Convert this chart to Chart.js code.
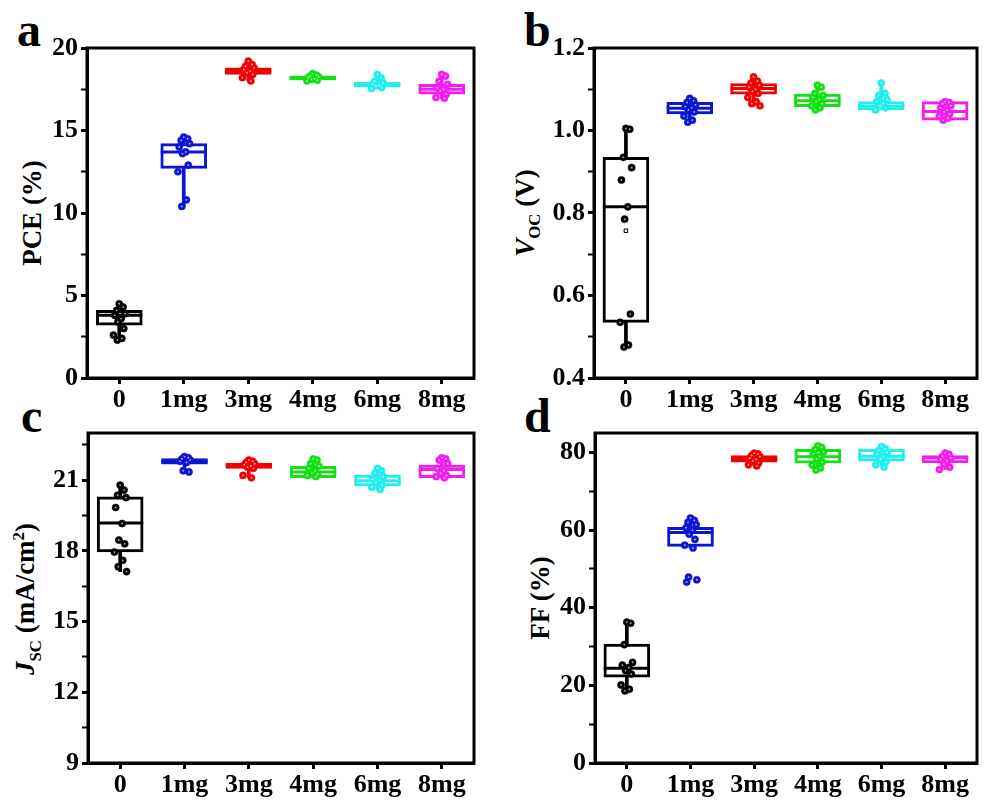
<!DOCTYPE html>
<html>
<head>
<meta charset="utf-8">
<script src="https://cdn.jsdelivr.net/npm/chart.js@4.4.1/dist/chart.umd.min.js"></script>
<style>
  body { margin: 0; background: #fff; width: 1003px; height: 803px; position: relative; overflow: hidden; font-family: "Liberation Serif", "Times New Roman", Tinos, serif; }
  .panel { position: absolute; }
  .letter { position: absolute; font-weight: bold; font-size: 48px; line-height: 1; }
  .ytitle { position: absolute; font-weight: bold; font-size: 27px; white-space: nowrap; line-height: 1; transform: translate(-50%, -50%) rotate(-90deg); }
  .ytitle sub, .ytitle sup { font-size: 0.62em; }
</style>
</head>
<body>
<div class="letter" style="left:17px; top:6px">a</div>
<div class="letter" style="left:524px; top:6px">b</div>
<div class="letter" style="left:21px; top:392px">c</div>
<div class="letter" style="left:524px; top:392px">d</div>

<div class="ytitle" style="left:32px; top:213px">PCE (%)</div>
<div class="ytitle" style="left:528px; top:213px"><i>V</i><sub>OC</sub> (V)</div>
<div class="ytitle" style="left:28px; top:599px"><i>J</i><sub>SC</sub> (mA/cm<sup>2</sup>)</div>
<div class="ytitle" style="left:540px; top:598px">FF (%)</div>

<div class="panel" style="left:0; top:0"><canvas id="pce" width="500" height="420"></canvas></div>
<div class="panel" style="left:500px; top:0"><canvas id="voc" width="503" height="420"></canvas></div>
<div class="panel" style="left:0; top:400px"><canvas id="jsc" width="500" height="403"></canvas></div>
<div class="panel" style="left:500px; top:400px"><canvas id="ff" width="503" height="403"></canvas></div>

<script>
// categories and colours
const groups = ["0", "1mg", "3mg", "4mg", "6mg", "8mg"]
const colors = ["#000000", "#0b16d2", "#f00000", "#14e014", "#22eef0", "#f01ef0"]

// PCE (%)
const pceLow = [2.3, 10.4, 18.0, 18.0, 17.55, 16.95]
const pceQ1 = [3.2, 12.7, 18.4, 18.07, 17.62, 17.2]
const pceMed = [3.8, 13.7, 18.6, 18.2, 17.78, 17.5]
const pceQ3 = [4.1, 14.2, 18.8, 18.32, 17.92, 17.8]
const pceHigh = [4.5, 14.6, 19.2, 18.45, 18.4, 18.4]
const pcePts = [
  [4.5, 4.3, 4.1, 3.9, 3.8, 3.6, 3.4, 3.0, 2.6, 2.4, 2.3],
  [14.6, 14.5, 14.4, 14.2, 14.0, 13.7, 13.6, 12.9, 12.5, 10.8, 10.4],
  [19.2, 19.0, 18.9, 18.8, 18.7, 18.6, 18.5, 18.4, 18.2, 18.0],
  [18.45, 18.35, 18.3, 18.25, 18.2, 18.15, 18.1, 18.05, 18.0],
  [18.4, 18.2, 18.0, 17.9, 17.8, 17.75, 17.7, 17.6, 17.55],
  [18.4, 18.3, 18.0, 17.8, 17.6, 17.5, 17.4, 17.2, 17.0, 16.95],
]
const pceTicks = [0, 5, 10, 15, 20]

// Voc (V)
const vocLow = [0.475, 1.02, 1.06, 1.05, 1.05, 1.025]
const vocQ1 = [0.535, 1.04, 1.088, 1.058, 1.05, 1.025]
const vocMed = [0.815, 1.054, 1.102, 1.072, 1.059, 1.046]
const vocQ3 = [0.935, 1.068, 1.114, 1.088, 1.07, 1.07]
const vocHigh = [1.005, 1.078, 1.13, 1.11, 1.115, 1.07]
const vocMean = [0.757, null, null, null, null, null]
const vocPts = [
  [1.005, 1.003, 0.935, 0.91, 0.88, 0.815, 0.785, 0.555, 0.535, 0.48, 0.475],
  [1.078, 1.072, 1.068, 1.062, 1.058, 1.055, 1.05, 1.045, 1.035, 1.025, 1.02],
  [1.13, 1.12, 1.115, 1.11, 1.105, 1.1, 1.095, 1.09, 1.08, 1.07, 1.065, 1.06],
  [1.11, 1.105, 1.09, 1.085, 1.08, 1.075, 1.07, 1.065, 1.06, 1.055, 1.05],
  [1.115, 1.09, 1.085, 1.075, 1.07, 1.065, 1.06, 1.055, 1.05],
  [1.07, 1.068, 1.065, 1.06, 1.055, 1.05, 1.045, 1.04, 1.035, 1.03, 1.025],
]
const vocTicks = [0.4, 0.6, 0.8, 1.0, 1.2]

// Jsc (mA/cm2)
const jscLow = [17.12, 21.35, 21.1, 21.15, 20.6, 21.1]
const jscQ1 = [17.95, 21.68, 21.5, 21.11, 20.75, 21.11]
const jscMed = [19.18, 21.8, 21.6, 21.35, 20.97, 21.45]
const jscQ3 = [20.29, 21.92, 21.71, 21.59, 21.21, 21.64]
const jscHigh = [20.79, 22.0, 21.85, 21.9, 21.5, 21.95]
const jscPts = [
  [20.79, 20.58, 20.36, 20.26, 19.84, 19.16, 18.46, 18.3, 17.95, 17.6, 17.33, 17.12],
  [22.0, 21.95, 21.9, 21.85, 21.8, 21.75, 21.4, 21.35],
  [21.85, 21.8, 21.75, 21.7, 21.65, 21.6, 21.55, 21.5, 21.2, 21.1],
  [21.9, 21.85, 21.7, 21.6, 21.5, 21.4, 21.3, 21.25, 21.2, 21.15],
  [21.5, 21.4, 21.3, 21.15, 21.05, 21.0, 20.9, 20.8, 20.7, 20.6],
  [21.95, 21.9, 21.85, 21.7, 21.5, 21.4, 21.3, 21.2, 21.15, 21.1],
]
const jscTicks = [9, 12, 15, 18, 21]

// FF (%)
const ffLow = [18.6, 55.4, 76.5, 75.5, 76.2, 75.6]
const ffQ1 = [22.1, 55.8, 77.5, 77.2, 77.8, 77.3]
const ffMed = [24.4, 59.4, 78.4, 78.9, 79.0, 78.6]
const ffQ3 = [30.6, 60.7, 79.2, 80.8, 80.8, 79.2]
const ffHigh = [36.3, 63.1, 79.8, 81.7, 81.5, 79.8]
const ffPts = [
  [36.3, 36.0, 30.5, 25.9, 25.2, 24.6, 23.8, 22.9, 20.1, 19.0, 18.6],
  [63.1, 62.5, 62.0, 61.4, 60.6, 60.0, 58.9, 57.6, 56.1, 55.4, 47.9, 47.2, 46.6],
  [79.8, 79.6, 79.2, 78.9, 78.5, 78.2, 77.8, 77.3, 76.8, 76.5],
  [81.7, 81.3, 80.8, 80.2, 79.6, 79.0, 78.3, 77.5, 76.8, 76.0, 75.5],
  [81.5, 81.0, 80.5, 80.0, 79.5, 79.0, 78.3, 77.5, 76.8, 76.2],
  [79.8, 79.5, 79.0, 78.6, 78.2, 77.8, 77.0, 76.2, 75.6],
]
const ffTicks = [0, 20, 40, 60, 80]

// horizontal spread of the dots inside each group
const jitter = [0.0, 0.06, -0.04, 0.09, -0.07, 0.03, -0.02, 0.07, -0.09, 0.04, -0.03, 0.1, -0.06]

const tickFont = { family: '"Liberation Serif", "Times New Roman", Tinos, serif', weight: "bold", size: 26 }

const framePlugin = {
  id: "frame",
  afterDatasetsDraw(chart) {
    const { ctx, chartArea: a } = chart
    ctx.save()
    ctx.strokeStyle = "#000"
    ctx.lineWidth = 3
    ctx.strokeRect(a.left, a.top, a.right - a.left, a.bottom - a.top)
    ctx.restore()
  },
}

function makeChart(id, d) {
  const step = d.ticks[1] - d.ticks[0]
  const allTicks = []
  d.ticks.forEach((t) => {
    allTicks.push(t)
    if (t + step / 2 <= d.max + 1e-9) allTicks.push(t + step / 2)
  })

  const pts = []
  const ptColors = []
  d.pts.forEach((arr, i) => {
    arr.forEach((v, j) => {
      pts.push({ x: i + jitter[j % jitter.length], y: v })
      ptColors.push(colors[i])
    })
  })

  const datasets = [
    {
      type: "bar",
      order: 5,
      grouped: false,
      data: groups.map((g, i) => ({ x: i, y: [d.low[i], d.high[i]] })),
      backgroundColor: colors,
      borderWidth: 0,
      barThickness: 3,
    },
    {
      type: "bar",
      order: 4,
      grouped: false,
      data: groups.map((g, i) => ({ x: i, y: [d.q1[i], d.q3[i]] })),
      backgroundColor: "#ffffff",
      borderColor: colors,
      borderWidth: 3,
      borderSkipped: false,
      barThickness: 46,
    },
    {
      type: "scatter",
      order: 3,
      data: groups.map((g, i) => ({ x: i, y: d.med[i] })),
      pointStyle: "line",
      pointRadius: 23,
      pointBorderWidth: 3,
      pointBorderColor: colors,
    },
    {
      type: "scatter",
      order: 0,
      data: pts,
      pointRadius: 3.6,
      pointBackgroundColor: ptColors,
      pointBorderColor: ptColors,
      pointBorderWidth: 0.5,
    },
    {
      type: "scatter",
      order: -1,
      data: pts,
      pointRadius: 0.9,
      pointBackgroundColor: "rgba(255,255,255,0.7)",
      pointBorderWidth: 0,
    },
  ]
  if (d.mean) {
    datasets.push({
      type: "scatter",
      order: 1,
      data: groups.map((g, i) => ({ x: i, y: d.mean[i] })),
      pointStyle: "rect",
      pointRadius: 2.5,
      pointBackgroundColor: "#fff",
      pointBorderColor: "#000",
      pointBorderWidth: 1,
    })
  }

  new Chart(document.getElementById(id), {
    type: "scatter",
    data: { datasets },
    options: {
      responsive: false,
      animation: false,
      events: [],
      layout: { padding: { left: 0, top: d.padTop, right: d.padRight, bottom: 0 } },
      plugins: { legend: { display: false }, tooltip: { enabled: false } },
      scales: {
        x: {
          type: "linear",
          min: -0.5,
          max: 5.5,
          offset: false,
          afterBuildTicks: (a) => {
            a.ticks = groups.map((g, i) => ({ value: i }))
          },
          afterFit: (a) => {
            a.height = d.xH
          },
          ticks: {
            callback: (v) => groups[v],
            font: tickFont,
            color: "#000",
            padding: 1,
            autoSkip: false,
            maxRotation: 0,
          },
          grid: { display: true, drawOnChartArea: false, drawTicks: true, tickLength: 6, tickWidth: 3, tickColor: "#000", offset: false },
          border: { display: true, width: 3, color: "#000" },
        },
        y: {
          type: "linear",
          min: d.min,
          max: d.max,
          afterBuildTicks: (a) => {
            a.ticks = allTicks.map((v) => ({ value: v }))
          },
          afterFit: (a) => {
            a.width = d.yW
          },
          ticks: {
            callback: (v) => (d.ticks.includes(v) ? d.fmt(v) : ""),
            font: tickFont,
            color: "#000",
            padding: 3,
            autoSkip: false,
          },
          grid: {
            display: true,
            drawOnChartArea: false,
            drawTicks: true,
            tickLength: 6,
            tickWidth: (c) => (c.tick && d.ticks.includes(c.tick.value) ? 3 : 2),
            tickColor: "#000",
          },
          border: { display: true, width: 3, color: "#000" },
        },
      },
    },
    plugins: [framePlugin],
  })
}

makeChart("pce", {
  low: pceLow, q1: pceQ1, med: pceMed, q3: pceQ3, high: pceHigh, pts: pcePts,
  ticks: pceTicks, min: 0, max: 20, fmt: (v) => String(v),
  padTop: 48, padRight: 5, yW: 87, xH: 42,
})
makeChart("voc", {
  low: vocLow, q1: vocQ1, med: vocMed, q3: vocQ3, high: vocHigh, pts: vocPts, mean: vocMean,
  ticks: vocTicks, min: 0.4, max: 1.2, fmt: (v) => v.toFixed(1),
  padTop: 48, padRight: 2, yW: 94, xH: 42,
})
makeChart("jsc", {
  low: jscLow, q1: jscQ1, med: jscMed, q3: jscQ3, high: jscHigh, pts: jscPts,
  ticks: jscTicks, min: 9, max: 23, fmt: (v) => String(v),
  padTop: 33, padRight: 5, yW: 88, xH: 40,
})
makeChart("ff", {
  low: ffLow, q1: ffQ1, med: ffMed, q3: ffQ3, high: ffHigh, pts: ffPts,
  ticks: ffTicks, min: 0, max: 85, fmt: (v) => String(v),
  padTop: 33, padRight: 2, yW: 95, xH: 40,
})
</script>
</body>
</html>
